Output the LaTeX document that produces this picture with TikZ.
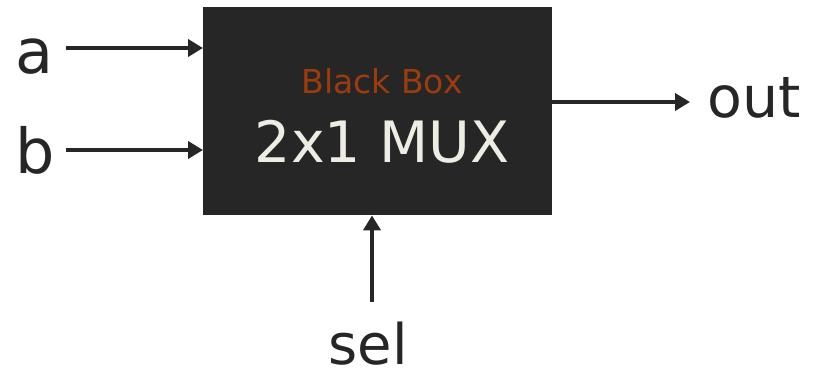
\documentclass[tikz,border=0pt]{standalone}
\usepackage{fontspec}
\setmainfont{DejaVu Sans}
\usetikzlibrary{arrows.meta}
\definecolor{boxfill}{HTML}{262626}
\definecolor{bbtext}{HTML}{9C3B0B}
\definecolor{muxtext}{HTML}{EEEDE4}
\definecolor{ink}{HTML}{262626}
\tikzset{
  lbl/.style={anchor=base, text=ink, inner sep=0pt},
  arr/.style={draw=ink, line width=4.5pt, -{Triangle[length=15pt,width=17pt]}},
}
\begin{document}
\begin{tikzpicture}[x=1pt,y=1pt]
\useasboundingbox (0,0) rectangle (816,-372);
\node[fill=boxfill, minimum width=349pt, minimum height=208pt, inner sep=0pt, anchor=north west] (box) at (203,-7) {};
\node[anchor=base, text=bbtext, inner sep=0pt, font=\fontsize{33}{33}\selectfont] (bb) at (382,-93) {Black Box};
\node[anchor=base, text=muxtext, inner sep=0pt, font=\fontsize{57}{57}\selectfont] (mux) at (382,-162) {2x1 MUX};
\node[lbl, font=\fontsize{62}{62}\selectfont] (a) at (34,-73) {a};
\node[lbl, font=\fontsize{62}{62}\selectfont] (b) at (35,-173) {b};
\node[lbl, font=\fontsize{57}{57}\selectfont] (out) at (754,-117) {out};
\node[lbl, font=\fontsize{56}{56}\selectfont] (sel) at (368,-364) {sel};
\coordinate (ain) at (66,-48);
\coordinate (bin) at (66,-150);
\coordinate (oend) at (690,-102);
\coordinate (sin) at (372,-302);
\draw[arr] (ain) -- (ain -| box.west);
\draw[arr] (bin) -- (bin -| box.west);
\draw[arr] (oend -| box.east) -- (oend);
\draw[arr] (sin) -- (sin |- box.south);
\end{tikzpicture}
\end{document}
